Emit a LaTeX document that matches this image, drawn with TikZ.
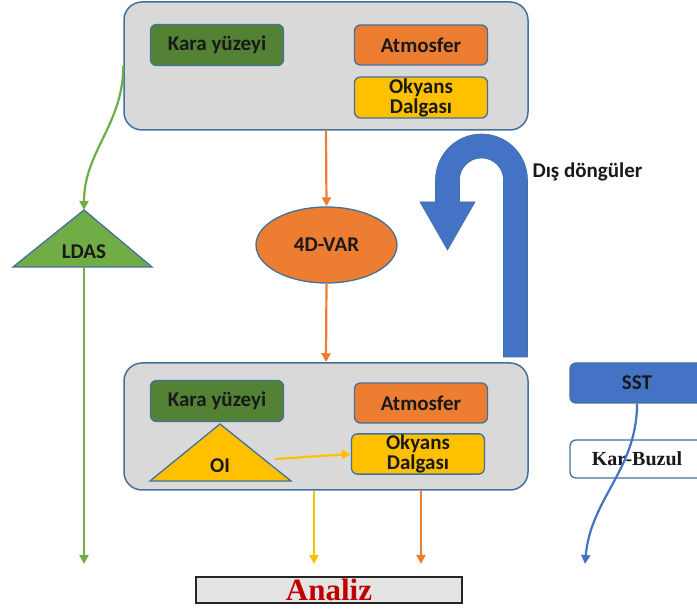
\documentclass[tikz,border=0pt]{standalone}
\usepackage{fontspec}
\setmainfont{Carlito}
\newfontfamily\serifbf{Liberation Serif}
\usepackage{tikz}
\usetikzlibrary{shapes.geometric, arrows.meta, positioning, calc}
\definecolor{panelgray}{HTML}{D9D9D9}
\definecolor{edgeblue}{HTML}{41719C}
\definecolor{landgreen}{HTML}{548235}
\definecolor{ldasgreen}{HTML}{70AD47}
\definecolor{atmorange}{HTML}{ED7D31}
\definecolor{oceanyellow}{HTML}{FFC000}
\definecolor{loopblue}{HTML}{4472C4}
\definecolor{analizred}{HTML}{C00000}
\tikzset{
  panel/.style={
    draw=edgeblue, line width=1.5pt, rounded corners=18pt,
    fill=panelgray, minimum width=404pt, minimum height=128pt
  },
  compbox/.style={
    draw=edgeblue, line width=1.3pt, rounded corners=6pt, align=center,
    font=\fontsize{21}{20}\selectfont\bfseries, text=black!90,
    minimum width=133pt, minimum height=41pt, inner sep=1pt
  },
  tribox/.style={
    draw=edgeblue, line width=1.3pt, line join=miter
  },
  flowarrow/.style={
    -{Triangle[length=9pt,width=9pt]}, line width=2.2pt
  },
  tilabel/.style={
    font=\fontsize{21}{20}\selectfont\bfseries, text=black!90
  },
}
\begin{document}
\begin{tikzpicture}[x=1pt, y=-1pt]
  \useasboundingbox (0,0) rectangle (697,612);
  \clip (0,0) rectangle (697,612);

  % Upper model panel
  \node[panel] (toppanel) at (326,66) {};
  \node[compbox, fill=landgreen] (topland) at (217,45) {Kara yüzeyi};
  \node[compbox, fill=atmorange, minimum height=40pt] (topatm) at (421,45) {Atmosfer};
  \node[compbox, fill=oceanyellow] (topocean) at (421,97.5) {Okyans\\Dalgası};

  % LDAS triangle
  \coordinate (ldastop) at (84,210);
  \coordinate (ldasbase) at (84,267);
  \path[tribox, fill=ldasgreen] (ldastop) -- (152,267) -- (13,267) -- cycle;
  \node[tilabel] (ldas) at (84,252) {LDAS};

  % 4D-VAR
  \node[ellipse, draw=edgeblue, line width=1.3pt, fill=atmorange,
    minimum width=141pt, minimum height=76pt, tilabel] (fourdvar) at (326.5,245) {4D-VAR};

  % Outer loops
  \path[fill=loopblue, draw=edgeblue, line width=0.6pt]
    (503.5,357) -- (503.5,180) arc[start angle=0, end angle=180, radius=22pt]
    -- (459.5,202) -- (475,202) -- (447.5,250) -- (420,202) -- (435.5,202)
    -- (435.5,180) arc[start angle=180, end angle=0, radius=46pt]
    -- (527.5,357) -- cycle;
  \node[tilabel, anchor=west] (loops) at (529,172) {Dış döngüler};

  % Lower model panel
  \node[panel, minimum height=127pt] (botpanel) at (326,426.5) {};
  \node[compbox, fill=landgreen] (botland) at (217,401) {Kara yüzeyi};
  \node[compbox, fill=atmorange, minimum height=40pt] (botatm) at (421,403) {Atmosfer};
  \node[compbox, fill=oceanyellow, minimum height=40pt] (botocean) at (418,454) {Okyans\\Dalgası};
  \coordinate (oitop) at (220,424);
  \path[tribox, fill=oceanyellow] (oitop) -- (291,481) -- (150,481) -- cycle;
  \node[tilabel] (oi) at (220,466) {OI};
  \coordinate (oiright) at (275,459);

  % SST and Kar-Buzul
  \node[compbox, fill=loopblue, minimum width=134pt, minimum height=40pt] (sst) at (637,383) {SST};
  \node[compbox, fill=white, minimum width=134pt, minimum height=38pt,
    font=\serifbf\fontsize{20}{20}\selectfont\bfseries] (karbuzul) at (637,459) {Kar-Buzul};

  % Analiz
  \node[draw=black!85, line width=1.6pt, fill=panelgray!70!white,
    minimum width=266pt, minimum height=26pt, inner sep=0pt,
    font=\serifbf\fontsize{31}{31}\selectfont\bfseries, text=analizred] (analiz) at (329,590) {Analiz};

  % arrow ends above Analiz
  \coordinate (ldasend) at (84,564);
  \coordinate (oceanend) at (314,564);
  \coordinate (atmend) at (421,564);
  \coordinate (sstend) at (585,564);

  % Connectors
  \draw[flowarrow, ldasgreen] (toppanel.west) to[out=-90, in=90] (ldastop);
  \draw[flowarrow, ldasgreen] (ldasbase) -- (ldasend);
  \draw[flowarrow, atmorange] (toppanel.south) -- (fourdvar.north);
  \draw[flowarrow, atmorange] (fourdvar.south) -- (botpanel.north);
  \draw[flowarrow, oceanyellow] (oiright) -- (botocean.west);
  \draw[flowarrow, oceanyellow] (oceanend |- botpanel.south) -- (oceanend);
  \draw[flowarrow, atmorange] (atmend |- botpanel.south) -- (atmend);
  \draw[flowarrow, loopblue] (sst.south) to[out=-90, in=85] (sstend);
\end{tikzpicture}
\end{document}
